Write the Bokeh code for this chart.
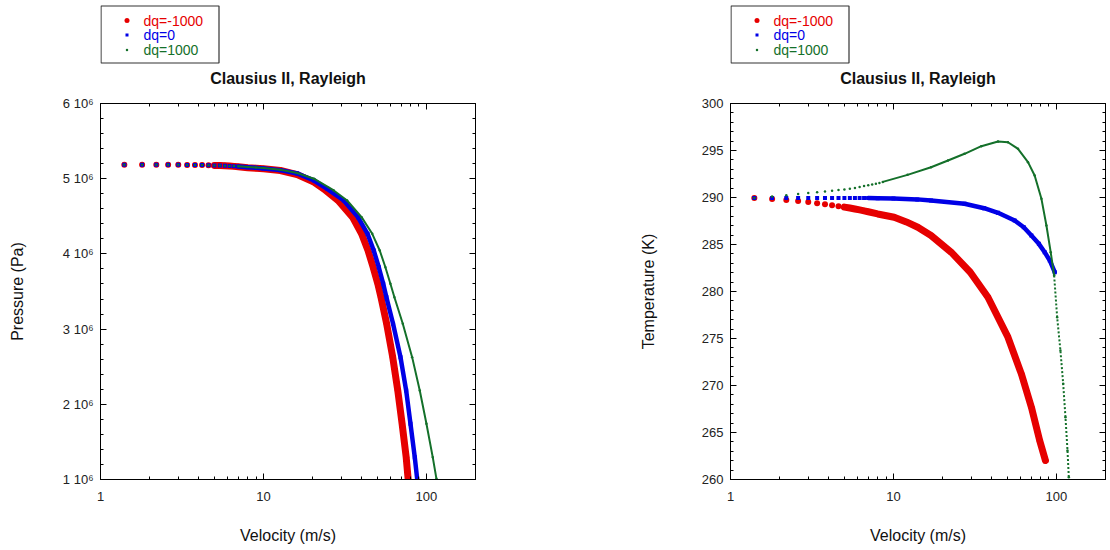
from bokeh.plotting import figure
from bokeh.models import Range1d, FixedTicker, LinearAxis, LogAxis, CustomJSTickFormatter
from bokeh.layouts import row, column
from bokeh.embed import file_html
from bokeh.resources import INLINE
from bokeh.core.properties import value

FONT = "Liberation Sans"
RED, BLUE, GREEN = "#e60000", "#0000e6", "#14702a"

title_text = "Clausius II, Rayleigh"
series_labels = ["dq=-1000", "dq=0", "dq=1000"]
x_title = "Velocity (m/s)"
p_title = "Pressure (Pa)"
t_title = "Temperature (K)"

# ---- left chart: pressure vs velocity ----
pv_red = [1.4, 1.8, 2.2, 2.6, 3.0, 3.4, 3.8, 4.2, 4.6, 5.0, 5.4, 5.8, 6.2, 6.6, 7.0,
          8.0, 9.0, 10.0, 12.7, 16.1, 20.4, 23.4, 28.7, 35.2, 40.0, 43.8, 47.1, 50.3, 52.6,
          57.0, 62.1, 66.7, 70.9, 75.1, 77.2, 78.0]
pp_red = [5.185e6, 5.185e6, 5.185e6, 5.184e6, 5.184e6, 5.183e6, 5.182e6, 5.181e6, 5.179e6, 5.177e6,
          5.174e6, 5.171e6, 5.168e6, 5.164e6, 5.159e6,
          5.147e6, 5.140e6, 5.132e6, 5.109e6, 5.055e6, 4.954e6, 4.865e6, 4.710e6, 4.489e6, 4.267e6,
          4.045e6, 3.823e6, 3.603e6, 3.424e6, 3.071e6, 2.627e6, 2.183e6, 1.741e6, 1.297e6, 1.009e6, 0.90e6]

pv_blue = [1.4, 1.8, 2.2, 2.6, 3.0, 3.4, 3.8, 4.2, 4.6, 5.0, 5.4, 5.8, 6.2, 6.6, 7.0,
           8.0, 9.0, 10.0, 12.7, 16.1, 20.4, 24.6, 31.1, 38.0, 43.5, 47.5, 51.0, 54.3, 56.8,
           62.4, 69.3, 75.1, 79.8, 84.8, 87.7, 88.5]
pp_blue = [5.185e6, 5.185e6, 5.185e6, 5.184e6, 5.184e6, 5.183e6, 5.182e6, 5.181e6, 5.179e6, 5.177e6,
           5.175e6, 5.172e6, 5.169e6, 5.166e6, 5.162e6,
           5.152e6, 5.144e6, 5.137e6, 5.114e6, 5.070e6, 4.976e6, 4.865e6, 4.710e6, 4.489e6, 4.267e6,
           4.045e6, 3.823e6, 3.603e6, 3.424e6, 3.071e6, 2.627e6, 2.183e6, 1.741e6, 1.297e6, 1.009e6, 0.92e6]

pv_green = [1.4, 1.8, 2.2, 2.6, 3.0, 3.4, 3.8, 4.2, 4.6, 5.0, 5.4, 5.8, 6.2, 6.6, 7.0,
            8.0, 9.0, 10.0, 12.7, 16.1, 20.4, 27.0, 32.6, 40.0, 46.5, 51.7, 56.0, 60.1, 63.6,
            71.6, 81.7, 91.0, 100.0, 109.3, 115.2, 116.5]
pp_green = [5.185e6, 5.185e6, 5.185e6, 5.184e6, 5.184e6, 5.183e6, 5.182e6, 5.181e6, 5.179e6, 5.177e6,
            5.176e6, 5.173e6, 5.170e6, 5.168e6, 5.165e6,
            5.156e6, 5.148e6, 5.142e6, 5.120e6, 5.076e6, 5.000e6, 4.844e6, 4.710e6, 4.489e6, 4.267e6,
            4.045e6, 3.823e6, 3.603e6, 3.424e6, 3.071e6, 2.627e6, 2.183e6, 1.741e6, 1.297e6, 1.009e6, 0.92e6]

# ---- right chart: temperature vs velocity ----
tv_red = [1.4, 1.8, 2.2, 2.6, 3.0, 3.4, 3.8, 4.2, 4.6, 5.0, 5.4, 5.8, 6.2, 6.6, 7.0,
          8.0, 10.1, 12.0, 14.1, 17.0, 22.6, 29.6, 38.0, 50.4, 60.9, 70.2, 78.9, 85.6]
tt_red = [289.95, 289.84, 289.73, 289.62, 289.51, 289.40, 289.29, 289.18, 289.08, 288.98,
          288.88, 288.78, 288.68, 288.58, 288.48,
          288.25, 287.90, 287.40, 286.84, 285.96, 284.18, 282.05, 279.39, 275.14, 271.24,
          267.69, 264.15, 262.02]

tv_blue = [1.4, 1.8, 2.2, 2.6, 3.0, 3.4, 3.8, 4.2, 4.6, 5.0, 5.4, 5.8, 6.2, 6.6, 7.0,
           8.0, 10.0, 14.0, 17.0, 27.3, 36.0, 43.8, 55.4, 63.0, 70.2, 78.0, 84.7, 91.0, 97.6]
tt_blue = [289.95, 289.95, 289.95, 289.95, 289.95, 289.95, 289.95, 289.95, 289.95, 289.95,
           289.95, 289.95, 289.95, 289.95, 289.95,
           289.93, 289.90, 289.80, 289.68, 289.33, 288.86, 288.37, 287.55, 286.84, 285.96,
           285.07, 284.18, 283.30, 282.05]

tv_green = [1.4, 1.8, 2.2, 2.6, 3.0, 3.4, 3.8, 4.2, 4.6, 5.0, 5.4, 5.8, 6.2, 6.6, 7.0,
            7.4, 7.8, 8.2, 8.6, 12.2, 17.0, 21.6, 27.3, 34.6, 43.8, 50.4, 58.1, 66.9, 73.5,
            80.9, 86.8, 92.2, 96.8, 101.0, 105.8, 110.0, 113.6, 116.9, 119.1, 119.6]
tt_green = [289.95, 290.10, 290.24, 290.37, 290.47, 290.57, 290.65, 290.72, 290.79, 290.86,
            290.92, 291.02, 291.13, 291.22, 291.30,
            291.38, 291.46, 291.55, 291.66, 292.41, 293.22, 293.94, 294.65, 295.46, 295.96,
            295.88, 295.18, 293.76, 292.34, 289.86, 287.02, 284.18, 281.70, 277.27, 273.72,
            270.18, 266.63, 263.09, 260.24, 259.5]

# ---- ticks ----
x_major = [1, 10, 100]
x_minor = [2, 3, 4, 5, 6, 7, 8, 9, 20, 30, 40, 50, 60, 70, 80, 90, 200]
p_major = [1e6, 2e6, 3e6, 4e6, 5e6, 6e6]
p_minor = [1.2e6, 1.4e6, 1.6e6, 1.8e6, 2.2e6, 2.4e6, 2.6e6, 2.8e6, 3.2e6, 3.4e6, 3.6e6, 3.8e6,
           4.2e6, 4.4e6, 4.6e6, 4.8e6, 5.2e6, 5.4e6, 5.6e6, 5.8e6]
t_major = [260, 265, 270, 275, 280, 285, 290, 295, 300]
t_minor = [t for t in range(260, 301) if t % 5 != 0]

styles = [  # marker, size, line width
    ("circle", 6, 7),
    ("square", 4, 4.5),
    ("circle", 2.5, 2),
]
colors = [RED, BLUE, GREEN]

x_fmt = CustomJSTickFormatter(code="return tick.toFixed(0);")
p_fmt = CustomJSTickFormatter(code="return (tick/1e6).toFixed(0) + ' 10\u2076';")
blank_fmt = CustomJSTickFormatter(code="return '';")


def style_axis(ax, labels=True):
    ax.major_tick_in = 6
    ax.major_tick_out = 0
    ax.minor_tick_in = 3
    ax.minor_tick_out = 0
    ax.axis_line_color = "black"
    ax.major_tick_line_color = "black"
    ax.minor_tick_line_color = "black"
    if labels:
        ax.major_label_text_font = FONT
        ax.major_label_text_font_size = "13px"
        ax.major_label_text_color = "#222222"
        ax.axis_label_text_font = FONT
        ax.axis_label_text_font_size = "16px"
        ax.axis_label_text_font_style = "normal"
        ax.axis_label_text_color = "#111111"
    else:
        ax.formatter = blank_fmt
        ax.major_label_standoff = 0


def make_chart(series, y_range, y_major, y_minor, y_label, y_fmt, left_border, right_border,
               y_label_standoff, line_starts, dash_from):
    p = figure(width=555, height=455, x_axis_type="log", x_range=Range1d(1, 200), y_range=y_range,
               output_backend="svg", toolbar_location=None,
               min_border_left=left_border, min_border_right=right_border,
               min_border_top=8, min_border_bottom=71)
    p.xgrid.visible = False
    p.ygrid.visible = False
    p.outline_line_color = "black"
    p.outline_line_alpha = 1.0

    xa = p.xaxis[0]
    xa.ticker = FixedTicker(ticks=x_major, minor_ticks=x_minor)
    xa.formatter = x_fmt
    xa.axis_label = x_title
    style_axis(xa)
    xa.major_label_standoff = 12
    xa.axis_label_standoff = 23

    ya = p.yaxis[0]
    ya.ticker = FixedTicker(ticks=y_major, minor_ticks=y_minor)
    if y_fmt is not None:
        ya.formatter = y_fmt
    ya.axis_label = y_label
    style_axis(ya)
    ya.major_label_standoff = 7
    ya.axis_label_standoff = y_label_standoff

    top = LogAxis(ticker=FixedTicker(ticks=x_major, minor_ticks=x_minor))
    style_axis(top, labels=False)
    p.add_layout(top, "above")
    right = LinearAxis(ticker=FixedTicker(ticks=y_major, minor_ticks=y_minor))
    style_axis(right, labels=False)
    p.add_layout(right, "right")

    for (xs, ys), (marker, size, lw), color, vstart, vdash in zip(series, styles, colors,
                                                                  line_starts, dash_from):
        k = next(i for i, v in enumerate(xs) if v >= vstart)
        m = next((i for i, v in enumerate(xs) if vdash is not None and v >= vdash), len(xs) - 1)
        p.scatter(xs, ys, marker=marker, size=size, fill_color=color, line_color=None)
        p.line(xs[k:m + 1], ys[k:m + 1], line_color=color, line_width=lw,
               line_join="round", line_cap="round")
        if m < len(xs) - 1:
            p.line(xs[m:], ys[m:], line_color=color, line_width=lw, line_dash="2 2")
    return p


def make_header(f_left, f_right, b_left, b_right):
    lf = figure(width=555, height=95, x_range=Range1d(f_left, f_right), y_range=Range1d(95, 0),
                x_axis_type=None, y_axis_type=None, output_backend="svg", toolbar_location=None,
                min_border_left=b_left, min_border_right=b_right, min_border_top=0,
                min_border_bottom=0, outline_line_color=None)
    lf.xgrid.visible = False
    lf.ygrid.visible = False
    lf.quad(left=[f_left + 0.5], right=[f_left + 118.5], top=[5.5], bottom=[62.5],
            fill_color="white", line_color="#333333", line_width=1.2)
    rows_y = [20, 34.5, 49.5]
    for (marker, size, lw), color, label, yy in zip(styles, colors, series_labels, rows_y):
        lf.scatter([f_left + 26.5], [yy], marker=marker, size=max(size - 1, 2.5),
                   fill_color=color, line_color=None)
        lf.text([f_left + 43], [yy], text=[label], text_color=color, text_font=value(FONT),
                text_font_size="14px", text_baseline="middle", text_align="left")
    lf.text([(f_left + f_right) / 2], [78], text=[title_text], text_color="#111111",
            text_font=value(FONT), text_font_size="16px", text_font_style="bold",
            text_baseline="middle", text_align="center")
    return lf


p1 = make_chart([(pv_red, pp_red), (pv_blue, pp_blue), (pv_green, pp_green)],
                Range1d(1e6, 6e6), p_major, p_minor, p_title, p_fmt, 100, 80, 34,
                [5.0, 7.0, 7.0], [None, None, None])
p2 = make_chart([(tv_red, tt_red), (tv_blue, tt_blue), (tv_green, tt_green)],
                Range1d(260, 300), t_major, t_minor, t_title, None, 175, 5, 42,
                [5.0, 7.0, 8.6], [None, None, 96.8])

layout = row(column(make_header(100, 475, 100, 80), p1),
             column(make_header(730, 1105, 175, 5), p2))

open("out.html", "w").write(file_html(layout, INLINE))
